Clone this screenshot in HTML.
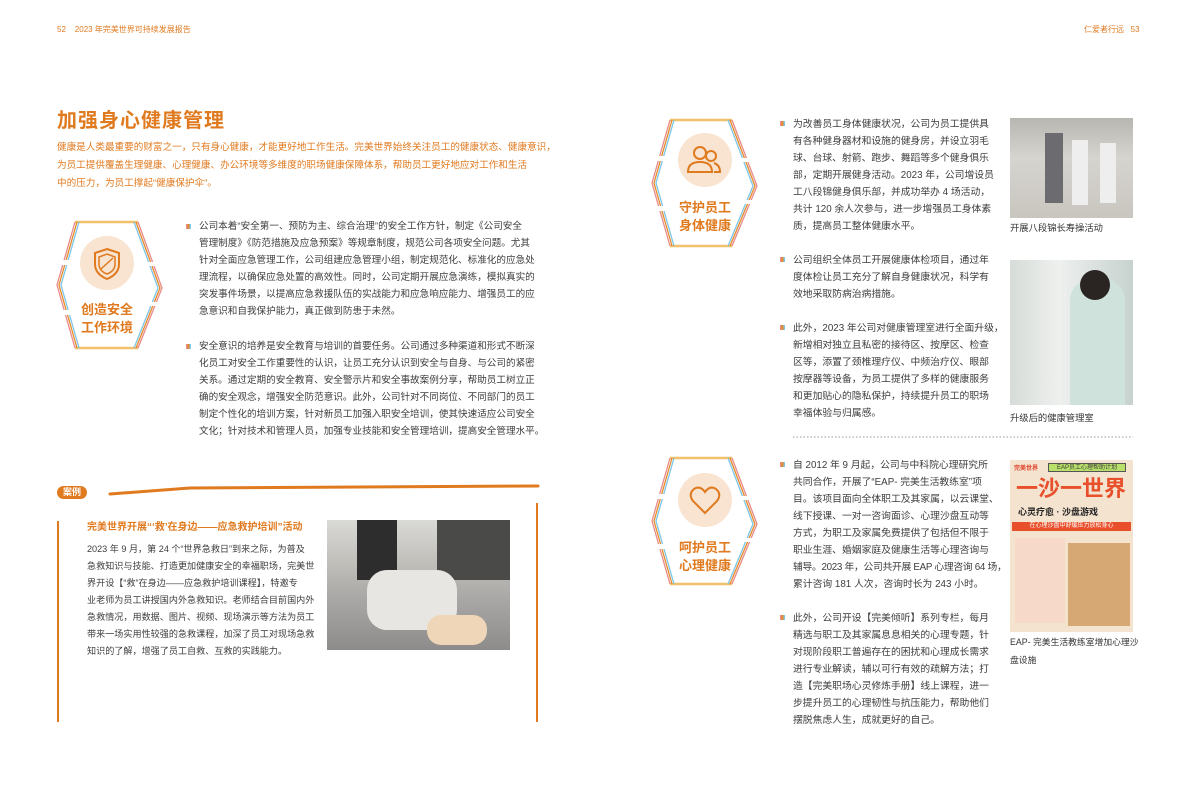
<!DOCTYPE html>
<html><head><meta charset="utf-8">
<style>
*{margin:0;padding:0;box-sizing:border-box}
body{width:1191px;height:809px;background:#fff;position:relative;overflow:hidden;font-family:"Liberation Sans","Noto Sans CJK SC",sans-serif;color:#3a3a3a}
.a{position:absolute}
.t{font-size:9.8px;line-height:17px;white-space:nowrap;color:#3d3d3d}
.b{position:absolute;width:5px;height:5px;background:linear-gradient(90deg,#e98a8a 0 33%,#e58a2a 33% 66%,#7cc6e6 66%)}
.or{color:#e07a1f}
.cap{font-size:9.3px;line-height:18px;white-space:nowrap;color:#333}
.badge{position:absolute;font-weight:bold;color:#e07a1f;font-size:13px;line-height:18px;text-align:center;width:80px}
</style></head><body>

<div class="a or" style="left:57px;top:24px;font-size:8px;">52 &nbsp;&nbsp; 2023 年完美世界可持续发展报告</div>
<div class="a or" style="left:1084px;top:24px;font-size:8px;">仁爱者行远 &nbsp; 53</div>

<div class="a or" style="left:57px;top:104px;font-size:20px;font-weight:bold;letter-spacing:1px">加强身心健康管理</div>
<div class="a or" style="left:57px;top:139px;font-size:9.6px;line-height:18px;white-space:nowrap">健康是人类最重要的财富之一，只有身心健康，才能更好地工作生活。完美世界始终关注员工的健康状态、健康意识，<br>为员工提供覆盖生理健康、心理健康、办公环境等多维度的职场健康保障体系，帮助员工更好地应对工作和生活<br>中的压力，为员工撑起“健康保护伞”。</div>

<svg class="a" style="left:0;top:0" width="1191" height="809">
<g transform="translate(57,222)">
<line x1="18" y1="0" x2="81" y2="0" stroke="#f3c06b" stroke-width="2.5"/>
<line x1="18" y1="126" x2="81" y2="126" stroke="#f3c06b" stroke-width="2.5"/>
<polyline points="18,0 0,63 18,126" fill="none" stroke="#e98a8a" stroke-width="1.3"/>
<polyline points="20,0 2,63 20,126" fill="none" stroke="#e58a2a" stroke-width="1.3"/>
<polyline points="22,0 4,63 22,126" fill="none" stroke="#7cc6e6" stroke-width="1.3"/>
<polyline points="81,0 105,66 81,126" fill="none" stroke="#e98a8a" stroke-width="1.3"/>
<polyline points="79,0 103,66 79,126" fill="none" stroke="#e58a2a" stroke-width="1.3"/>
<polyline points="77,0 101,66 77,126" fill="none" stroke="#7cc6e6" stroke-width="1.3"/>
<rect x="-4" y="38" width="18" height="5" fill="#fff"/>
<rect x="-4" y="88" width="18" height="5" fill="#fff"/>
<rect x="88" y="40" width="18" height="4" fill="#fff"/>
<rect x="90" y="80" width="18" height="4" fill="#fff"/>
<circle cx="50" cy="41" r="27" fill="#f8e4d0"/>
<path d="M50 27 L62 31 L62 42 Q62 52 50 57 Q38 52 38 42 L38 31 Z" fill="none" stroke="#e07a1f" stroke-width="2"/>
<path d="M50 32 L58 35 L58 42 Q58 49 50 52 Q42 49 42 42 L42 35 Z" fill="none" stroke="#e07a1f" stroke-width="1.5"/>
<line x1="44" y1="47" x2="56" y2="36" stroke="#e07a1f" stroke-width="1.5"/>
</g>
<g transform="translate(652,120)">
<line x1="18" y1="0" x2="80" y2="0" stroke="#f3c06b" stroke-width="2.5"/>
<line x1="18" y1="126" x2="80" y2="126" stroke="#f3c06b" stroke-width="2.5"/>
<polyline points="18,0 0,63 18,126" fill="none" stroke="#e98a8a" stroke-width="1.3"/>
<polyline points="20,0 2,63 20,126" fill="none" stroke="#e58a2a" stroke-width="1.3"/>
<polyline points="22,0 4,63 22,126" fill="none" stroke="#7cc6e6" stroke-width="1.3"/>
<polyline points="80,0 105,66 80,126" fill="none" stroke="#e98a8a" stroke-width="1.3"/>
<polyline points="78,0 103,66 78,126" fill="none" stroke="#e58a2a" stroke-width="1.3"/>
<polyline points="76,0 101,66 76,126" fill="none" stroke="#7cc6e6" stroke-width="1.3"/>
<rect x="-4" y="36" width="18" height="5" fill="#fff"/>
<rect x="-4" y="86" width="18" height="5" fill="#fff"/>
<rect x="88" y="38" width="18" height="4" fill="#fff"/>
<rect x="90" y="80" width="18" height="4" fill="#fff"/>
<circle cx="53" cy="40" r="27" fill="#f8e4d0"/>
<circle cx="48" cy="33" r="6" fill="none" stroke="#e07a1f" stroke-width="2"/>
<path d="M36 52 Q36 42 48 42 Q60 42 60 52 Z" fill="none" stroke="#e07a1f" stroke-width="2"/>
<circle cx="59" cy="36" r="5" fill="none" stroke="#e07a1f" stroke-width="2"/>
<path d="M62 43 Q68 45 68 52 L62 52" fill="none" stroke="#e07a1f" stroke-width="2"/>
</g>
<g transform="translate(652,458)">
<line x1="18" y1="0" x2="80" y2="0" stroke="#f3c06b" stroke-width="2.5"/>
<line x1="18" y1="126" x2="80" y2="126" stroke="#f3c06b" stroke-width="2.5"/>
<polyline points="18,0 0,63 18,126" fill="none" stroke="#e98a8a" stroke-width="1.3"/>
<polyline points="20,0 2,63 20,126" fill="none" stroke="#e58a2a" stroke-width="1.3"/>
<polyline points="22,0 4,63 22,126" fill="none" stroke="#7cc6e6" stroke-width="1.3"/>
<polyline points="80,0 105,66 80,126" fill="none" stroke="#e98a8a" stroke-width="1.3"/>
<polyline points="78,0 103,66 78,126" fill="none" stroke="#e58a2a" stroke-width="1.3"/>
<polyline points="76,0 101,66 76,126" fill="none" stroke="#7cc6e6" stroke-width="1.3"/>
<rect x="-4" y="36" width="18" height="5" fill="#fff"/>
<rect x="-4" y="86" width="18" height="5" fill="#fff"/>
<rect x="88" y="38" width="18" height="4" fill="#fff"/>
<rect x="90" y="80" width="18" height="4" fill="#fff"/>
<circle cx="53" cy="42" r="27" fill="#f8e4d0"/>
<path d="M53 55 L41 43 Q36 36 42 31 Q48 27 53 34 Q58 27 64 31 Q70 36 65 43 Z" fill="none" stroke="#e07a1f" stroke-width="2"/>
</g>
<path d="M110 494 L190 488 L538 486" stroke="#e07a1f" stroke-width="3" fill="none" stroke-linecap="round"/>
<line x1="537" y1="503" x2="537" y2="722" stroke="#e07a1f" stroke-width="2"/>
<line x1="58" y1="521" x2="58" y2="722" stroke="#e07a1f" stroke-width="2"/>
<line x1="793" y1="437" x2="1133" y2="437" stroke="#999" stroke-width="1" stroke-dasharray="1.5 2"/>
</svg>

<div class="badge" style="left:67px;top:301px">创造安全<br>工作环境</div>
<div class="badge" style="left:665px;top:199px">守护员工<br>身体健康</div>
<div class="badge" style="left:665px;top:539px">呵护员工<br>心理健康</div>

<div class="b" style="left:186px;top:224px"></div>
<div class="a t" style="left:199px;top:218px;font-size:9.6px">公司本着“安全第一、预防为主、综合治理”的安全工作方针，制定《公司安全<br>管理制度》《防范措施及应急预案》等规章制度，规范公司各项安全问题。尤其<br>针对全面应急管理工作，公司组建应急管理小组，制定规范化、标准化的应急处<br>理流程，以确保应急处置的高效性。同时，公司定期开展应急演练，模拟真实的<br>突发事件场景，以提高应急救援队伍的实战能力和应急响应能力、增强员工的应<br>急意识和自我保护能力，真正做到防患于未然。</div>
<div class="b" style="left:186px;top:344px"></div>
<div class="a t" style="left:199px;top:338px;font-size:9.6px">安全意识的培养是安全教育与培训的首要任务。公司通过多种渠道和形式不断深<br>化员工对安全工作重要性的认识，让员工充分认识到安全与自身、与公司的紧密<br>关系。通过定期的安全教育、安全警示片和安全事故案例分享，帮助员工树立正<br>确的安全观念，增强安全防范意识。此外，公司针对不同岗位、不同部门的员工<br>制定个性化的培训方案，针对新员工加强入职安全培训，使其快速适应公司安全<br>文化；针对技术和管理人员，加强专业技能和安全管理培训，提高安全管理水平。</div>

<div class="a" style="left:57px;top:486px;width:30px;height:13px;border-radius:7px;background:#e07a1f;color:#fff;font-size:9px;font-weight:bold;text-align:center;line-height:13px">案例</div>
<div class="a or" style="left:87px;top:518px;font-size:10px;font-weight:bold;white-space:nowrap">完美世界开展“‘救’在身边——应急救护培训”活动</div>
<div class="a t" style="left:87px;top:541px;font-size:9.1px">2023 年 9 月，第 24 个“世界急救日”到来之际，为普及<br>急救知识与技能、打造更加健康安全的幸福职场，完美世<br>界开设【“救”在身边——应急救护培训课程】，特邀专<br>业老师为员工讲授国内外急救知识。老师结合目前国内外<br>急救情况，用数据、图片、视频、现场演示等方法为员工<br>带来一场实用性较强的急救课程，加深了员工对现场急救<br>知识的了解，增强了员工自救、互救的实践能力。</div>
<div class="a" style="left:327px;top:520px;width:183px;height:130px;background:linear-gradient(180deg,#d9d9d6 0%,#bfbdb8 35%,#a9a8a6 60%,#8d8c8a 100%);overflow:hidden">
<div class="a" style="left:110px;top:0;width:73px;height:60px;background:#4a4a48"></div>
<div class="a" style="left:30px;top:0;width:40px;height:60px;background:#2d2d2d"></div>
<div class="a" style="left:40px;top:50px;width:90px;height:60px;background:#e8e6e2;border-radius:20px"></div>
<div class="a" style="left:100px;top:95px;width:60px;height:30px;background:#f0d6b8;border-radius:14px"></div>
</div>

<div class="b" style="left:780px;top:121px"></div>
<div class="a t" style="left:793px;top:116px">为改善员工身体健康状况，公司为员工提供具<br>有各种健身器材和设施的健身房，并设立羽毛<br>球、台球、射箭、跑步、舞蹈等多个健身俱乐<br>部，定期开展健身活动。2023 年，公司增设员<br>工八段锦健身俱乐部，并成功举办 4 场活动，<br>共计 120 余人次参与，进一步增强员工身体素<br>质，提高员工整体健康水平。</div>
<div class="b" style="left:780px;top:257px"></div>
<div class="a t" style="left:793px;top:252px">公司组织全体员工开展健康体检项目，通过年<br>度体检让员工充分了解自身健康状况，科学有<br>效地采取防病治病措施。</div>
<div class="b" style="left:780px;top:325px"></div>
<div class="a t" style="left:793px;top:320px">此外，2023 年公司对健康管理室进行全面升级，<br>新增相对独立且私密的接待区、按摩区、检查<br>区等，添置了颈椎理疗仪、中频治疗仪、眼部<br>按摩器等设备，为员工提供了多样的健康服务<br>和更加贴心的隐私保护，持续提升员工的职场<br>幸福体验与归属感。</div>
<div class="b" style="left:780px;top:462px"></div>
<div class="a t" style="left:793px;top:457px">自 2012 年 9 月起，公司与中科院心理研究所<br>共同合作，开展了“EAP- 完美生活教练室”项<br>目。该项目面向全体职工及其家属，以云课堂、<br>线下授课、一对一咨询面诊、心理沙盘互动等<br>方式，为职工及家属免费提供了包括但不限于<br>职业生涯、婚姻家庭及健康生活等心理咨询与<br><span style="letter-spacing:-0.3px">辅导。2023 年，公司共开展 EAP 心理咨询 64 场，</span><br>累计咨询 181 人次，咨询时长为 243 小时。</div>
<div class="b" style="left:780px;top:615px"></div>
<div class="a t" style="left:793px;top:610px">此外，公司开设【完美倾听】系列专栏，每月<br>精选与职工及其家属息息相关的心理专题，针<br>对现阶段职工普遍存在的困扰和心理成长需求<br>进行专业解读，辅以可行有效的疏解方法；打<br>造【完美职场心灵修炼手册】线上课程，进一<br>步提升员工的心理韧性与抗压能力，帮助他们<br>摆脱焦虑人生，成就更好的自己。</div>

<div class="a" style="left:1010px;top:118px;width:123px;height:100px;background:linear-gradient(180deg,#b8b6b0 0%,#d6d4cf 40%,#c9c6c0 100%)">
<div class="a" style="left:35px;top:15px;width:18px;height:70px;background:#6b6b70"></div>
<div class="a" style="left:62px;top:22px;width:16px;height:65px;background:#eeeeee"></div>
<div class="a" style="left:90px;top:25px;width:16px;height:60px;background:#eeeeee"></div>
</div>
<div class="a cap" style="left:1010px;top:219px">开展八段锦长寿操活动</div>
<div class="a" style="left:1010px;top:260px;width:123px;height:145px;background:linear-gradient(90deg,#d7dcd8 0%,#eef0ee 40%,#c7d2cf 100%);overflow:hidden">
<div class="a" style="left:60px;top:20px;width:55px;height:125px;background:#cfe3dc;border-radius:20px 20px 0 0"></div>
<div class="a" style="left:70px;top:10px;width:30px;height:30px;background:#2a2522;border-radius:50%"></div>
</div>
<div class="a cap" style="left:1010px;top:409px">升级后的健康管理室</div>
<div class="a" style="left:1010px;top:460px;width:123px;height:172px;background:#f4e3cf;overflow:hidden">
<div class="a" style="left:4px;top:3px;font-size:6px;color:#e0462a;font-weight:bold">完美世界</div>
<div class="a" style="left:38px;top:3px;width:78px;height:9px;background:#b8e06a;border:1px solid #555;font-size:6px;line-height:8px;text-align:center">EAP员工心理帮助计划</div>
<div class="a" style="left:6px;top:15px;font-size:22px;font-weight:bold;color:#e8502c;line-height:28px;white-space:nowrap">一沙一世界</div>
<div class="a" style="left:8px;top:45px;font-size:9px;font-weight:bold;color:#222;white-space:nowrap">心灵疗愈 · 沙盘游戏</div>
<div class="a" style="left:2px;top:62px;width:119px;height:9px;background:#e8502c;color:#fff;font-size:6px;line-height:9px;text-align:center">在心理沙盘中舒缓压力放松身心</div>
<div class="a" style="left:5px;top:78px;width:50px;height:85px;background:#f6d9c8"></div>
<div class="a" style="left:58px;top:83px;width:62px;height:83px;background:#d6a873"></div>
</div>
<div class="a cap" style="left:1010px;top:633px;font-size:8.8px">EAP- 完美生活教练室增加心理沙<br>盘设施</div>
</body></html>
